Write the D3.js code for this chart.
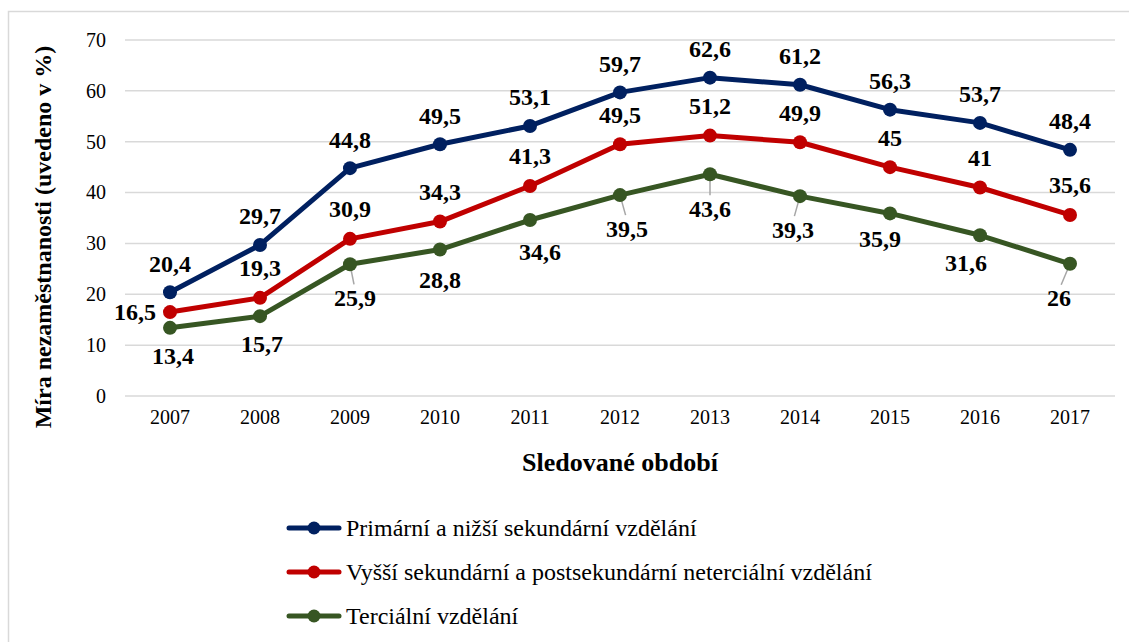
<!DOCTYPE html>
<html>
<head>
<meta charset="utf-8">
<script src="https://cdn.jsdelivr.net/npm/d3@7"></script>
<style>
  body { margin: 0; background: #fff; }
</style>
</head>
<body>
<svg id="chart" width="1129" height="642"></svg>
<script>
// data
var years = ["2007","2008","2009","2010","2011","2012","2013","2014","2015","2016","2017"];
var primarni = [20.4, 29.7, 44.8, 49.5, 53.1, 59.7, 62.6, 61.2, 56.3, 53.7, 48.4];
var vyssi = [16.5, 19.3, 30.9, 34.3, 41.3, 49.5, 51.2, 49.9, 45, 41, 35.6];
var tercialni = [13.4, 15.7, 25.9, 28.8, 34.6, 39.5, 43.6, 39.3, 35.9, 31.6, 26];
var seriesNames = ["Primární a nižší sekundární vzdělání",
  "Vyšší sekundární a postsekundární neterciální vzdělání",
  "Terciální vzdělání"];
var yTicks = [0, 10, 20, 30, 40, 50, 60, 70];

var colors = ["#002060", "#c00000", "#375623"];
var series = [primarni, vyssi, tercialni];
var FONT = "'Liberation Serif'";

// label nudges for the green series (Excel moved some of them)
var greenDx = [3, 2, 5, 0, 10, 7, 0, -7, -10, -14, -11];
var greenDy = [28, 27, 33, 30, 32, 33, 34, 33, 25, 27, 34];
var leader = [2, 5, 6, 7, 10];

var svg = d3.select("#chart");

function serif(sel, size, bold) {
  sel.attr("font-family", FONT)
    .style("font-family", FONT)
    .style("font-size", size + "px")
    .style("font-weight", bold ? "bold" : "normal")
    .attr("fill", "#000");
}

// frame
svg.append("rect")
  .attr("x", 8.5).attr("y", 11.5)
  .attr("width", 1140).attr("height", 700)
  .attr("fill", "none").attr("stroke", "#d9d9d9").attr("stroke-width", 1.5);

var x = d3.scaleBand().domain(years).range([125, 1115]);
var y = d3.scaleLinear().domain([0, 70]).range([396, 40]);

// gridlines
svg.append("g").selectAll("line")
  .data(yTicks).enter().append("line")
  .attr("x1", 125).attr("x2", 1115)
  .attr("y1", function(d) { return y(d); })
  .attr("y2", function(d) { return y(d); })
  .attr("stroke", "#d9d9d9").attr("stroke-width", 1.5);

// axes (only labels, no domain line)
var yAxis = svg.append("g")
  .attr("transform", "translate(106,0)")
  .call(d3.axisLeft(y).tickValues(yTicks).tickSize(0).tickPadding(0));
yAxis.attr("font-family", FONT);
yAxis.select(".domain").remove();
yAxis.selectAll("text").call(serif, 20, false);

var xAxis = svg.append("g")
  .attr("transform", "translate(0,410)")
  .call(d3.axisBottom(x).tickSize(0).tickPadding(0));
xAxis.attr("font-family", FONT);
xAxis.select(".domain").remove();
xAxis.selectAll("text").call(serif, 20, false);

// axis titles
svg.append("text")
  .attr("x", 620).attr("y", 471)
  .attr("text-anchor", "middle")
  .call(serif, 26, true)
  .text("Sledované období");

svg.append("text")
  .attr("transform", "translate(51,237) rotate(-90)")
  .attr("text-anchor", "middle")
  .call(serif, 24, true)
  .text("Míra nezaměstnanosti (uvedeno v %)");

var line = d3.line()
  .x(function(d, i) { return x(years[i]) + x.bandwidth() / 2; })
  .y(function(d) { return y(d); });

function cx(i) { return x(years[i]) + x.bandwidth() / 2; }

// leader lines for green labels
leader.forEach(function(i) {
  var px = cx(i), py = y(tercialni[i]);
  svg.append("line")
    .attr("x1", px).attr("y1", py)
    .attr("x2", px + greenDx[i] * 0.8).attr("y2", py + greenDy[i] - 13)
    .attr("stroke", "#a6a6a6").attr("stroke-width", 1.5);
});

for (var s = 0; s < series.length; s++) {
  svg.append("path")
    .datum(series[s])
    .attr("d", line)
    .attr("fill", "none")
    .attr("stroke", colors[s])
    .attr("stroke-width", 5)
    .attr("stroke-linejoin", "round");

  svg.append("g").selectAll("circle")
    .data(series[s]).enter().append("circle")
    .attr("cx", function(d, i) { return cx(i); })
    .attr("cy", function(d) { return y(d); })
    .attr("r", 7)
    .attr("fill", colors[s]);
}

// data labels
function fmt(v) { return String(v).replace(".", ","); }

function addLabels(vals, posFn) {
  svg.append("g").selectAll("text")
    .data(vals).enter().append("text")
    .attr("x", function(d, i) { return cx(i) + posFn(i).dx; })
    .attr("y", function(d, i) { return y(d) + posFn(i).dy; })
    .attr("dy", "0.35em")
    .attr("text-anchor", function(d, i) { return posFn(i).anchor || "middle"; })
    .call(serif, 24, true)
    .text(fmt);
}

addLabels(primarni, function(i) { return { dx: 0, dy: -29 }; });
addLabels(vyssi, function(i) {
  if (i === 0) return { dx: -14, dy: 0, anchor: "end" };
  return { dx: 0, dy: -30 };
});
addLabels(tercialni, function(i) { return { dx: greenDx[i], dy: greenDy[i] }; });

// legend
var legend = svg.append("g").selectAll("g")
  .data(seriesNames).enter().append("g")
  .attr("transform", function(d, i) { return "translate(0," + (528 + i * 44) + ")"; });

legend.append("line")
  .attr("x1", 289).attr("x2", 339)
  .attr("stroke", function(d, i) { return colors[i]; })
  .attr("stroke-width", 5).attr("stroke-linecap", "round");
legend.append("circle")
  .attr("cx", 314).attr("r", 6.5)
  .attr("fill", function(d, i) { return colors[i]; });
legend.append("text")
  .attr("x", 346).attr("dy", "0.35em")
  .call(serif, 24, false)
  .text(function(d) { return d; });
</script>
</body>
</html>
